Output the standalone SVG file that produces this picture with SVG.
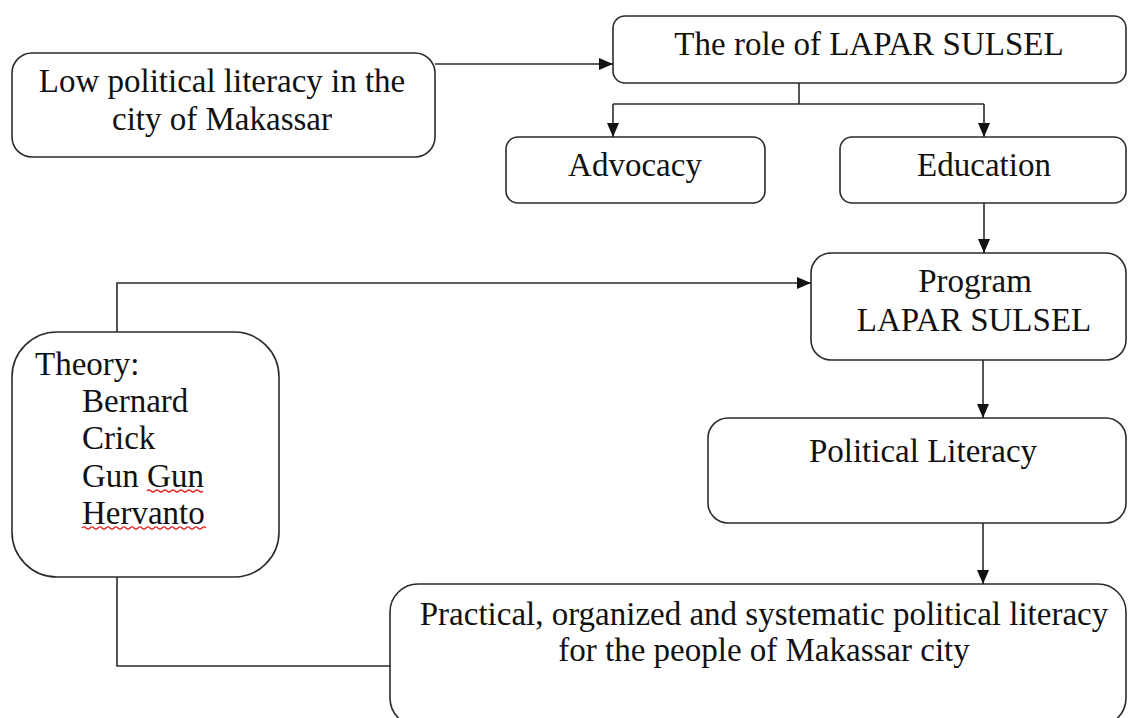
<svg xmlns="http://www.w3.org/2000/svg" width="1128" height="718" viewBox="0 0 1128 718">
<style>
.box{fill:#fff;stroke:#2b2b2b;stroke-width:1.6}
.t{font-family:"Liberation Serif","Times New Roman",serif;font-size:33px;fill:#111}
.c{text-anchor:middle}
.ln{fill:none;stroke:#2b2b2b;stroke-width:1.6}
.sq{fill:none;stroke:#e02020;stroke-width:1.2}
</style>
<defs>
<marker id="ah" viewBox="0 0 14 12" refX="14" refY="6" markerWidth="14" markerHeight="12" markerUnits="userSpaceOnUse" orient="auto">
<path d="M0,0 L14,6 L0,12 Z" fill="#111"/>
</marker>
</defs>
<rect width="1128" height="718" fill="#fff"/>
<g id="connectors">
<path class="ln" d="M435,64 H613" marker-end="url(#ah)"/>
<path class="ln" d="M799,83 V104"/>
<path class="ln" d="M613,104 H984"/>
<path class="ln" d="M613,104 V137" marker-end="url(#ah)"/>
<path class="ln" d="M984,104 V137" marker-end="url(#ah)"/>
<path class="ln" d="M984,203 V253" marker-end="url(#ah)"/>
<path class="ln" d="M117,332 V283 H811" marker-end="url(#ah)"/>
<path class="ln" d="M983,360 V418" marker-end="url(#ah)"/>
<path class="ln" d="M983,523 V584" marker-end="url(#ah)"/>
<path class="ln" d="M117,577 V666 H390"/>
</g>
<g id="low-literacy">
<rect class="box" x="12" y="53" width="423" height="104" rx="20"/>
<text class="t c" x="222" y="92">Low political literacy in the</text>
<text class="t c" x="222" y="130">city of Makassar</text>
</g>
<g id="role">
<rect class="box" x="613" y="16" width="513" height="67" rx="12"/>
<text class="t c" x="869" y="55">The role of LAPAR SULSEL</text>
</g>
<g id="advocacy">
<rect class="box" x="506" y="137" width="259" height="66" rx="12"/>
<text class="t c" x="635" y="176">Advocacy</text>
</g>
<g id="education">
<rect class="box" x="840" y="137" width="286" height="66" rx="12"/>
<text class="t c" x="984" y="176">Education</text>
</g>
<g id="program">
<rect class="box" x="811" y="253" width="315" height="107" rx="20"/>
<text class="t c" x="975" y="292">Program</text>
<text class="t c" x="974" y="331">LAPAR SULSEL</text>
</g>
<g id="theory">
<rect class="box" x="12" y="332" width="267" height="245" rx="45"/>
<text class="t" x="35" y="375">Theory:</text>
<text class="t" x="82" y="412">Bernard</text>
<text class="t" x="82" y="449">Crick</text>
<text class="t" x="82" y="487">Gun Gun</text>
<text class="t" x="82" y="524">Hervanto</text>
<path class="sq" d="M147,491 q2,-2 4,0 t4,0 t4,0 t4,0 t4,0 t4,0 t4,0 t4,0 t4,0 t4,0 t4,0 t4,0 t4,0 t4,0"/>
<path class="sq" d="M82,528 q2,-2 4,0 t4,0 t4,0 t4,0 t4,0 t4,0 t4,0 t4,0 t4,0 t4,0 t4,0 t4,0 t4,0 t4,0 t4,0 t4,0 t4,0 t4,0 t4,0 t4,0 t4,0 t4,0 t4,0 t4,0 t4,0 t4,0 t4,0 t4,0 t4,0 t4,0 t4,0"/>
</g>
<g id="political-literacy">
<rect class="box" x="708" y="418" width="418" height="105" rx="20"/>
<text class="t c" x="923" y="462">Political Literacy</text>
</g>
<g id="practical">
<rect class="box" x="390" y="584" width="736" height="142" rx="28"/>
<text class="t c" x="764" y="625">Practical, organized and systematic political literacy</text>
<text class="t c" x="764" y="661">for the people of Makassar city</text>
</g>
</svg>
